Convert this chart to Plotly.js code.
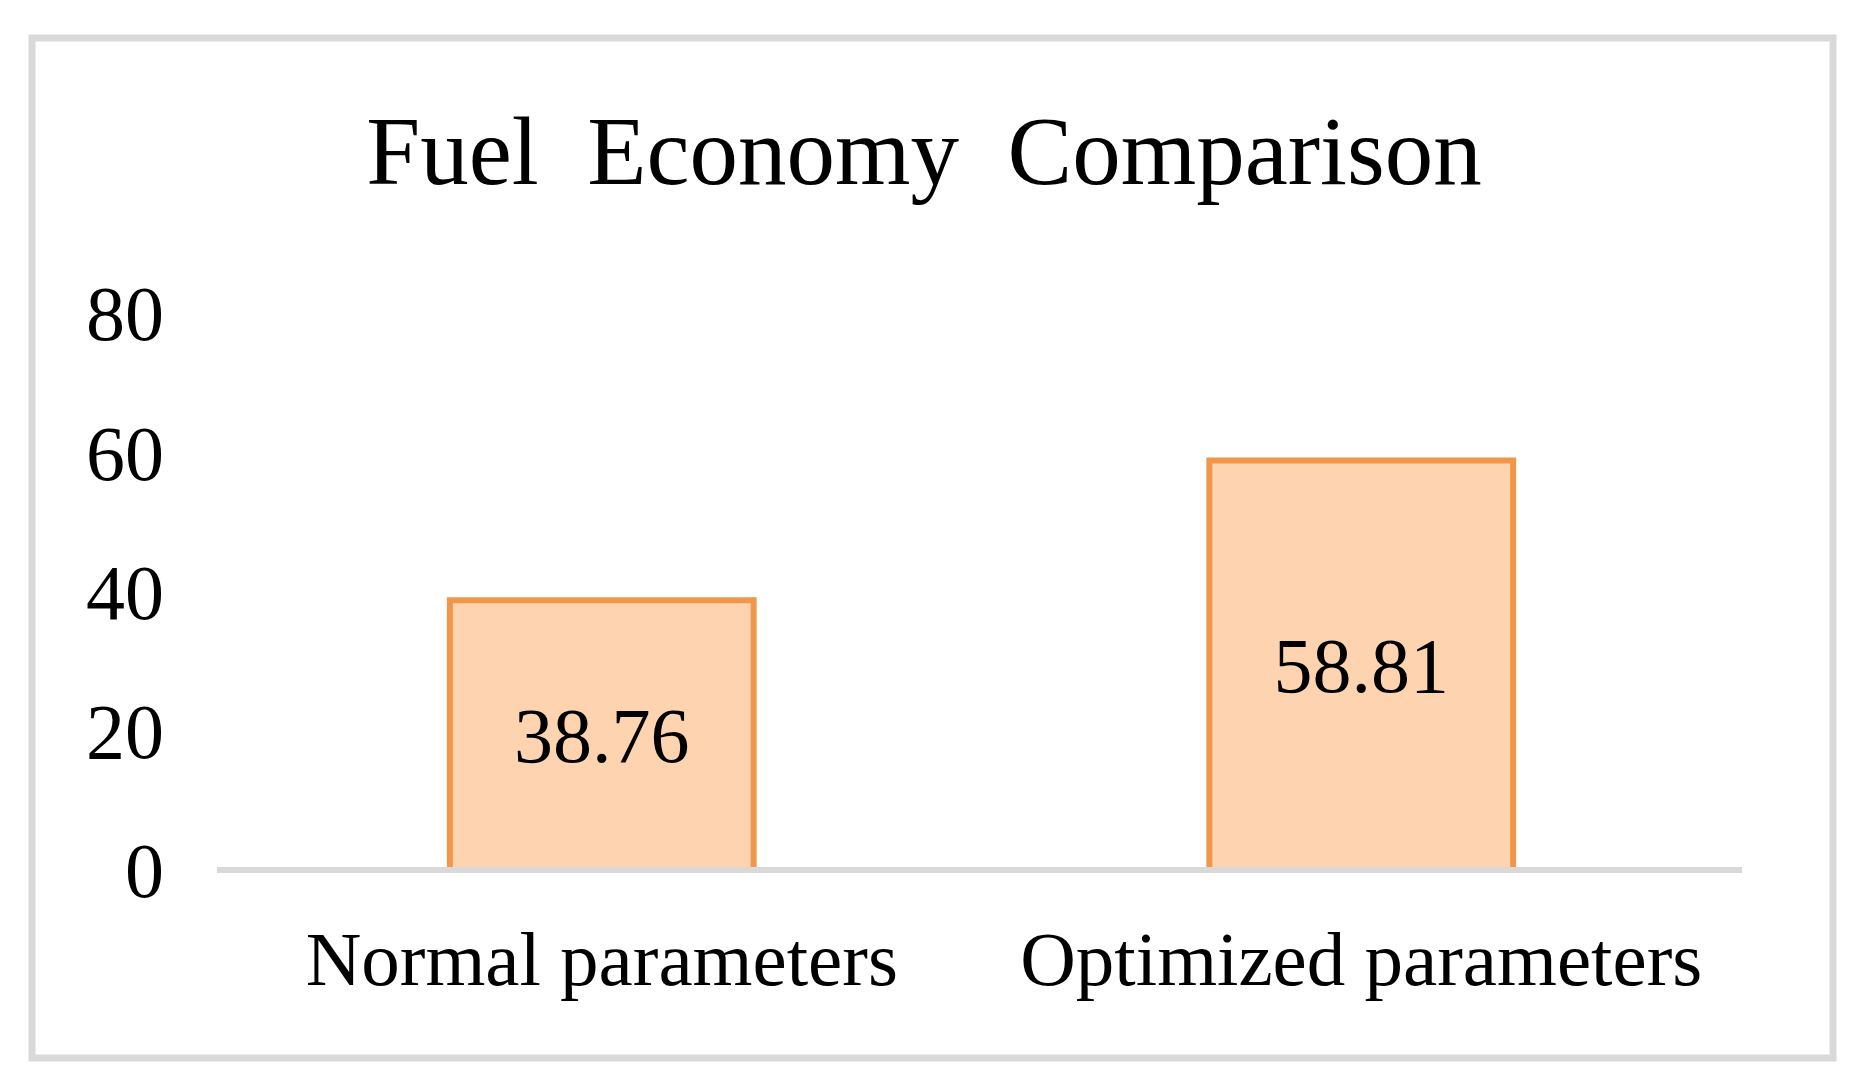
<!DOCTYPE html>
<html>
<head>
<meta charset="utf-8">
<script src="https://cdn.plot.ly/plotly-3.0.1.min.js"></script>
<style>
  html, body { margin: 0; padding: 0; background: #ffffff; }
  #chart { width: 1866px; height: 1091px; }
</style>
</head>
<body>
<div id="chart"></div>
<script>
// ---- Data ----
const categories = ["Normal parameters", "Optimized parameters"];
const fuelEconomy = [38.76, 58.81];
const valueLabels = ["38.76", "58.81"];
const yTickValues = [0, 20, 40, 60, 80];
const yTickLabels = ["0", "20", "40", "60", "80"];
const chartTitle = "Fuel\u00a0 Economy\u00a0 Comparison";

const serif = "Liberation Serif, Times New Roman, serif";

const trace = {
  type: "bar",
  x: categories,
  y: fuelEconomy,
  text: valueLabels,
  textposition: "inside",
  insidetextanchor: "middle",
  textfont: { family: serif, size: 78, color: "#000000" },
  width: 0.40,
  marker: {
    color: "#fdd4af",
    line: { color: "#f0974a", width: 6 }
  },
  hoverinfo: "x+y"
};

const W = 1866, H = 1091;
const mL = 222, mR = 125, mT = 313, mB = 221;
const plotW = W - mL - mR, plotH = H - mT - mB;
// frame in pixels converted to paper fractions
const fx0 = (32 - mL) / plotW, fx1 = (1833 - mL) / plotW;
const fy0 = ((H - mB) - 1058) / plotH, fy1 = ((H - mB) - 38) / plotH;
// baseline extends a little left of the first category slot
const bx0 = (217 - mL) / plotW, bx1 = (1742 - mL) / plotW;

const layout = {
  width: W,
  height: H,
  margin: { l: mL, r: mR, t: mT, b: mB, pad: 0 },
  paper_bgcolor: "#ffffff",
  plot_bgcolor: "#ffffff",
  showlegend: false,
  title: {
    text: chartTitle,
    font: { family: serif, size: 97, color: "#000000" },
    x: 924 / W,
    xref: "container",
    xanchor: "center",
    y: 1 - 150 / H,
    yref: "container",
    yanchor: "middle"
  },
  xaxis: {
    type: "category",
    showgrid: false,
    zeroline: false,
    showline: false,
    ticks: "",
    ticklabelstandoff: 37,
    tickfont: { family: serif, size: 77, color: "#000000" }
  },
  yaxis: {
    range: [0, 80],
    autorange: false,
    tickmode: "array",
    tickvals: yTickValues,
    ticktext: yTickLabels,
    showgrid: false,
    zeroline: false,
    showline: false,
    ticks: "",
    ticklabelstandoff: 57,
    tickfont: { family: serif, size: 78, color: "#000000" }
  },
  shapes: [
    {
      type: "rect",
      xref: "paper", yref: "paper",
      x0: fx0, x1: fx1, y0: fy0, y1: fy1,
      line: { color: "#d9d9d9", width: 7 },
      fillcolor: "rgba(0,0,0,0)",
      layer: "below"
    },
    {
      type: "line",
      xref: "paper", yref: "paper",
      x0: bx0, x1: bx1, y0: 0, y1: 0,
      line: { color: "#d9d9d9", width: 6 },
      layer: "above"
    }
  ]
};

Plotly.newPlot("chart", [trace], layout, { displayModeBar: false, staticPlot: true });
</script>
</body>
</html>
